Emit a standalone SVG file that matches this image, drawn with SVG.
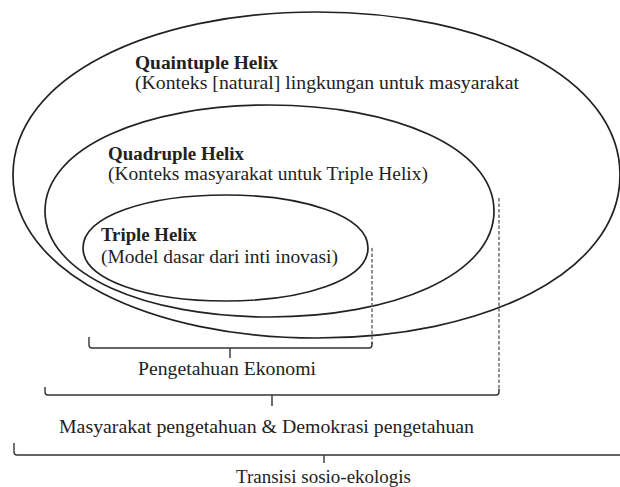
<svg xmlns="http://www.w3.org/2000/svg" width="620" height="487" viewBox="0 0 620 487">
<style>
.sh{fill:none;stroke:#222;stroke-width:1.7}
.br{fill:none;stroke:#333;stroke-width:1.4}
.ds{fill:none;stroke:#777;stroke-width:1.6;stroke-dasharray:3.5 2}
.t{font-family:'Liberation Serif','Times New Roman',serif;font-size:18px;fill:#222}
.b{font-weight:bold}
</style>
<rect width="620" height="487" fill="#fff"/>
<g id="quaintuple">
<path class="sh" d="M13,175 C13,77 150,12 317,12 C484,12 620,77 620,175 C620,273 484,338 317,338 C150,338 13,273 13,175 Z"/>
<text class="t b" x="135" y="69" textLength="143" lengthAdjust="spacingAndGlyphs">Quaintuple Helix</text>
<text class="t" x="135" y="89" textLength="384" lengthAdjust="spacingAndGlyphs">(Konteks [natural] lingkungan untuk masyarakat</text>
</g>
<g id="quadruple">
<path class="sh" d="M45,211 C45,147 146,105 269.5,105 C393,105 494,147 494,211 C494,275 393,317 269.5,317 C146,317 45,275 45,211 Z"/>
<text class="t b" x="108" y="160" textLength="136" lengthAdjust="spacingAndGlyphs">Quadruple Helix</text>
<text class="t" x="108" y="180" textLength="320" lengthAdjust="spacingAndGlyphs">(Konteks masyarakat untuk Triple Helix)</text>
</g>
<g id="triple">
<path class="sh" d="M83,248 C83,216 147,195 225.5,195 C304,195 368,216 368,248 C368,280 304,301 225.5,301 C147,301 83,280 83,248 Z"/>
<text class="t b" x="101" y="241" textLength="96" lengthAdjust="spacingAndGlyphs">Triple Helix</text>
<text class="t" x="101" y="263" textLength="237" lengthAdjust="spacingAndGlyphs">(Model dasar dari inti inovasi)</text>
</g>
<g id="connectors">
<line class="ds" x1="372" y1="248" x2="372" y2="344"/>
<line class="ds" x1="499" y1="198" x2="499" y2="391"/>
<path class="br" d="M89,337 V345 Q89,348 92,348 H369 Q372,348 372,345 V342"/>
<path class="br" d="M230,348 V358"/>
<path class="br" d="M45,387 V392 Q45,395 48,395 H496 Q499,395 499,392 V389"/>
<path class="br" d="M272,395 V406"/>
<path class="br" d="M14,443 V452 Q14,455 17,455 H620"/>
<path class="br" d="M324,455 V463"/>
</g>
<g id="labels">
<text class="t" x="138" y="375" textLength="178" lengthAdjust="spacingAndGlyphs">Pengetahuan Ekonomi</text>
<text class="t" x="59" y="433" textLength="415" lengthAdjust="spacingAndGlyphs">Masyarakat pengetahuan &amp; Demokrasi pengetahuan</text>
<text class="t" x="236" y="483" textLength="175" lengthAdjust="spacingAndGlyphs">Transisi sosio-ekologis</text>
</g>
</svg>
